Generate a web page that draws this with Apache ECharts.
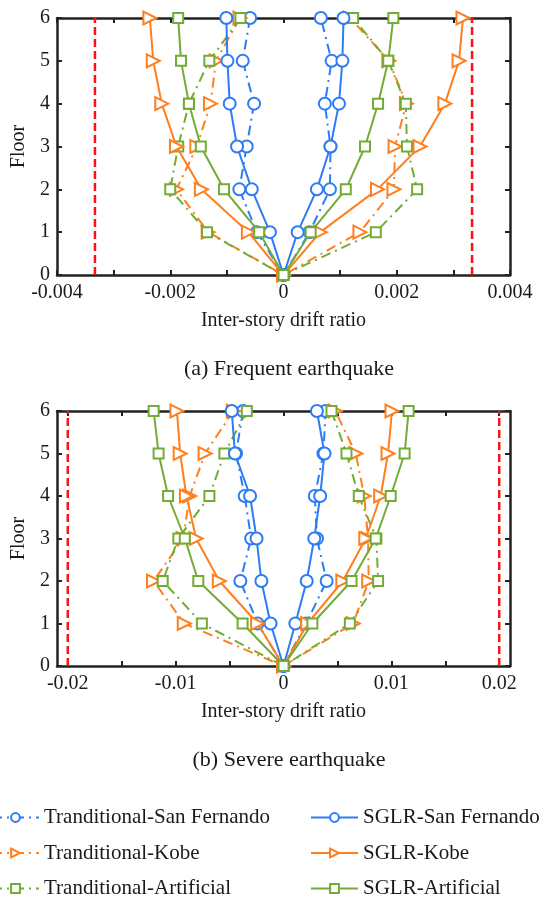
<!DOCTYPE html>
<html>
<head>
<meta charset="utf-8">
<script src="https://cdn.jsdelivr.net/npm/echarts@6/dist/echarts.min.js"></script>
<style>
html,body{margin:0;padding:0;background:#fff;}
#chart{width:544px;height:897px;}
</style>
</head>
<body>
<div id="chart"></div>
<script>
// ---------- data ----------
// Floors 1..6 for each envelope side (negative / positive drift)
var floorsUp = [1, 2, 3, 4, 5, 6];
var limitFloors = [0, 6];
var seriesNames = ['Tranditional-San Fernando', 'Tranditional-Kobe', 'Tranditional-Artificial',
                   'SGLR-San Fernando', 'SGLR-Kobe', 'SGLR-Artificial'];

// (a) Frequent earthquake, drift ratio, floors 1..6
var freqTradSFNeg  = [-0.00047, -0.00078, -0.00065, -0.00052, -0.00072, -0.00059];
var freqTradSFPos  = [0.00046, 0.00082, 0.00083, 0.00073, 0.00085, 0.00066];
var freqTradKobeNeg = [-0.00133, -0.00189, -0.00153, -0.00129, -0.00119, -0.00077];
var freqTradKobePos = [0.00135, 0.00195, 0.00197, 0.00217, 0.00186, 0.00118];
var freqTradArtNeg = [-0.00135, -0.00200, -0.00186, -0.00167, -0.00131, -0.00076];
var freqTradArtPos = [0.00163, 0.00236, 0.00218, 0.00216, 0.00185, 0.00123];
var freqSglrSFNeg  = [-0.00024, -0.00056, -0.00082, -0.00095, -0.00099, -0.00101];
var freqSglrSFPos  = [0.00025, 0.00059, 0.00083, 0.00098, 0.00104, 0.00106];
var freqSglrKobeNeg = [-0.00062, -0.00145, -0.00189, -0.00215, -0.00230, -0.00236];
var freqSglrKobePos = [0.00065, 0.00166, 0.00241, 0.00285, 0.00310, 0.00317];
var freqSglrArtNeg = [-0.00043, -0.00105, -0.00146, -0.00167, -0.00181, -0.00186];
var freqSglrArtPos = [0.00048, 0.00110, 0.00144, 0.00167, 0.00185, 0.00194];
var freqLimit = 0.00333;

// (b) Severe earthquake, drift ratio, floors 1..6
var sevTradSFNeg  = [-0.0024, -0.0040, -0.0030, -0.0036, -0.0044, -0.00375];
var sevTradSFPos  = [0.0021, 0.0040, 0.0031, 0.0029, 0.0037, 0.0039];
var sevTradKobeNeg = [-0.0092, -0.01205, -0.0093, -0.0087, -0.00727, -0.00465];
var sevTradKobePos = [0.00646, 0.0079, 0.00784, 0.00748, 0.0067, 0.0048];
var sevTradArtNeg = [-0.00757, -0.0112, -0.00975, -0.00687, -0.00548, -0.0034];
var sevTradArtPos = [0.00615, 0.00877, 0.00861, 0.00698, 0.00584, 0.00445];
var sevSglrSFNeg  = [-0.0012, -0.00205, -0.0025, -0.0031, -0.0045, -0.0048];
var sevSglrSFPos  = [0.0011, 0.00215, 0.00285, 0.0034, 0.0038, 0.0031];
var sevSglrKobeNeg = [-0.0024, -0.00595, -0.0081, -0.0090, -0.00958, -0.00988];
var sevSglrKobePos = [0.00224, 0.0055, 0.00763, 0.00901, 0.00969, 0.01006];
var sevSglrArtNeg = [-0.00379, -0.0079, -0.00915, -0.0107, -0.01158, -0.01204];
var sevSglrArtPos = [0.00268, 0.00631, 0.00855, 0.00994, 0.01123, 0.0116];
var sevLimit = 0.02;

// tick values
var sevLabelTicks = [-0.02, -0.01, 0, 0.01, 0.02];
var sevMinorTicks = [-0.02, -0.015, -0.01, -0.005, 0, 0.005, 0.01, 0.015, 0.02];

// ---------- styling ----------
var FONT = '"Liberation Serif", "Times New Roman", serif';
var TXT = '#1a1a1a';
var AX = '#222222';
var BLUE = '#2D7CF6', ORANGE = '#FF7F1E', GREEN = '#72AC34', RED = '#FF1010';
var DASHDOT = [10, 5, 2, 5];

function envelope(neg, pos) {
  var d = [];
  for (var i = neg.length - 1; i >= 0; i--) d.push([neg[i], floorsUp[i]]);
  d.push([0, 0]);
  for (var j = 0; j < pos.length; j++) d.push([pos[j], floorsUp[j]]);
  return d;
}

var styles = [
  {color: BLUE, symbol: 'emptyCircle', size: 12, rot: 0, dash: DASHDOT},
  {color: ORANGE, symbol: 'emptyTriangle', size: 13, rot: -90, dash: DASHDOT},
  {color: GREEN, symbol: 'emptyRect', size: 10, rot: 0, dash: DASHDOT},
  {color: BLUE, symbol: 'emptyCircle', size: 12, rot: 0, dash: 'solid'},
  {color: ORANGE, symbol: 'emptyTriangle', size: 13, rot: -90, dash: 'solid'},
  {color: GREEN, symbol: 'emptyRect', size: 10, rot: 0, dash: 'solid'}
];

var freqData = [
  envelope(freqTradSFNeg, freqTradSFPos), envelope(freqTradKobeNeg, freqTradKobePos),
  envelope(freqTradArtNeg, freqTradArtPos), envelope(freqSglrSFNeg, freqSglrSFPos),
  envelope(freqSglrKobeNeg, freqSglrKobePos), envelope(freqSglrArtNeg, freqSglrArtPos)
];
var sevData = [
  envelope(sevTradSFNeg, sevTradSFPos), envelope(sevTradKobeNeg, sevTradKobePos),
  envelope(sevTradArtNeg, sevTradArtPos), envelope(sevSglrSFNeg, sevSglrSFPos),
  envelope(sevSglrKobeNeg, sevSglrKobePos), envelope(sevSglrArtNeg, sevSglrArtPos)
];

function limitSeries(x, gi) {
  return {
    type: 'line', xAxisIndex: gi * 2, yAxisIndex: gi * 2, silent: true, symbol: 'none',
    data: [[x, limitFloors[0]], [x, limitFloors[1]]],
    lineStyle: {color: RED, type: [8, 4], width: 2.5}, z: 2, animation: false
  };
}

function makeSeries(dataSets, gi, limit) {
  var out = [limitSeries(-limit, gi), limitSeries(limit, gi)];
  for (var k = 0; k < 6; k++) {
    var s = styles[k];
    out.push({
      type: 'line', name: seriesNames[k], xAxisIndex: gi * 2, yAxisIndex: gi * 2,
      data: dataSets[k], clip: false,
      symbol: s.symbol, symbolSize: s.size, symbolRotate: s.rot, showAllSymbol: true,
      lineStyle: {color: s.color, width: 2, type: s.dash},
      itemStyle: {color: s.color, borderWidth: 2},
      emphasis: {disabled: true},
      z: 3 + k, animation: false
    });
  }
  return out;
}

function labelFreq(v) {
  var m = Math.round(v * 1000);
  if (m % 2 !== 0) return '';
  if (m === 0) return '0';
  return (m / 1000).toFixed(3);
}

var axisLineStyle = {color: AX, width: 2.5};
var tickStyle = {color: AX, width: 2};
var labelStyle = {color: TXT, fontFamily: FONT, fontSize: 20};
var nameStyle = {color: TXT, fontFamily: FONT, fontSize: 20};

function xAx(gi, pos, extra) {
  var base = {
    gridIndex: gi, type: 'value', position: pos,
    axisLine: {onZero: false, lineStyle: axisLineStyle},
    axisTick: {inside: true, length: 5, lineStyle: tickStyle},
    axisLabel: {show: false}, splitLine: {show: false}
  };
  return Object.assign(base, extra);
}

// one legend item per entry, placed in two columns of three rows
var legendLefts = [-9, -9, -9, 310, 310, 310];
var legendTops = [806.5, 842, 877.5, 806.5, 842, 877.5];
var legends = seriesNames.map(function (nm, i) {
  return {
    data: [nm], orient: 'horizontal', left: legendLefts[i], top: legendTops[i], padding: 0,
    itemWidth: 47, itemHeight: 11, selectedMode: false,
    textStyle: {fontFamily: FONT, fontSize: 21, color: TXT, lineHeight: 22}
  };
});

var option = {
  backgroundColor: '#ffffff',
  animation: false,
  title: [
    {text: '(a) Frequent earthquake', left: 284, top: 353, textAlign: 'center',
     textStyle: {fontFamily: FONT, fontSize: 22, fontWeight: 'normal', color: TXT}},
    {text: '(b) Severe earthquake', left: 284, top: 744, textAlign: 'center',
     textStyle: {fontFamily: FONT, fontSize: 22, fontWeight: 'normal', color: TXT}}
  ],
  grid: [
    {left: 57, top: 18, width: 453, height: 257},
    {left: 57, top: 411, width: 453, height: 255}
  ],
  xAxis: [
    xAx(0, 'bottom', {min: -0.004, max: 0.004, interval: 0.001,
      name: 'Inter-story drift ratio', nameLocation: 'middle', nameGap: 36, nameTextStyle: nameStyle,
      axisLabel: Object.assign({margin: 8, formatter: labelFreq, showMinLabel: true, showMaxLabel: true}, labelStyle)}),
    xAx(0, 'top', {min: -0.004, max: 0.004, interval: 0.001}),
    xAx(1, 'bottom', {min: -0.021, max: 0.021,
      name: 'Inter-story drift ratio', nameLocation: 'middle', nameGap: 36, nameTextStyle: nameStyle,
      axisTick: {inside: true, length: 5, lineStyle: tickStyle, customValues: sevMinorTicks},
      axisLabel: Object.assign({margin: 8, customValues: sevLabelTicks}, labelStyle)}),
    xAx(1, 'top', {min: -0.021, max: 0.021,
      axisTick: {inside: true, length: 5, lineStyle: tickStyle, customValues: sevMinorTicks}})
  ],
  yAxis: [
    xAx(0, 'left', {min: 0, max: 6, interval: 1,
      name: 'Floor', nameLocation: 'middle', nameGap: 24, nameRotate: 90, nameTextStyle: nameStyle,
      axisLabel: Object.assign({margin: 7}, labelStyle)}),
    xAx(0, 'right', {min: 0, max: 6, interval: 1}),
    xAx(1, 'left', {min: 0, max: 6, interval: 1,
      name: 'Floor', nameLocation: 'middle', nameGap: 24, nameRotate: 90, nameTextStyle: nameStyle,
      axisLabel: Object.assign({margin: 7}, labelStyle)}),
    xAx(1, 'right', {min: 0, max: 6, interval: 1})
  ],
  legend: legends,
  series: [].concat(makeSeries(freqData, 0, freqLimit), makeSeries(sevData, 1, sevLimit))
};

var chart = echarts.init(document.getElementById('chart'), null, {renderer: 'canvas'});
chart.setOption(option);
</script>
</body>
</html>
